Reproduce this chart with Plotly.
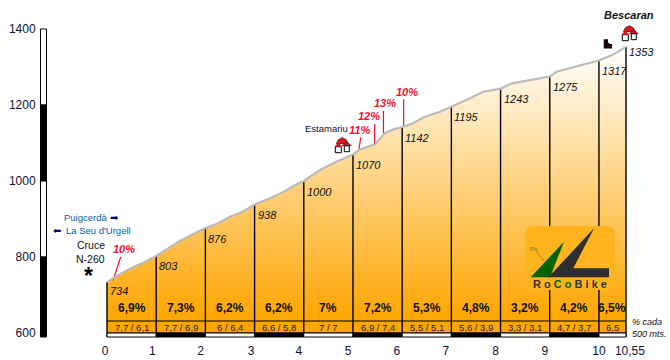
import plotly.graph_objects as go

W, H = 670, 360
# pixel anchors of the two scales
X0_PX, X1_PX = 107.0, 626.0
Y1400_PX, Y600_PX = 29.0, 333.0

km_marks = [0, 1, 2, 3, 4, 5, 6, 7, 8, 9, 10, 10.55]
elev_marks = [734, 803, 876, 938, 1000, 1070, 1142, 1195, 1243, 1275, 1317, 1353]
profile_km = [0, 0.26, 0.53, 0.74, 1, 1.21, 1.48, 1.72, 2, 2.23, 2.5, 2.77, 3, 3.3, 3.6, 3.79, 4,
              4.33, 4.67, 5, 5.14, 5.45, 5.65, 5.82, 6, 6.22, 6.46, 6.77, 7, 7.38, 7.65, 8, 8.23,
              8.66, 9, 9.15, 9.55, 10, 10.28, 10.55]
profile_elev = [734, 755, 773, 785, 803, 821, 842, 858, 876, 887, 906, 920, 938, 954, 972, 987, 1000,
                1029, 1051, 1070, 1083, 1097, 1126, 1136, 1142, 1152, 1169, 1182, 1195, 1218, 1235, 1243, 1257,
                1266, 1275, 1288, 1301, 1317, 1332, 1353]
km_labels = ["0", "1", "2", "3", "4", "5", "6", "7", "8", "9", "10", "10,55"]
km_label_pos = [-0.04, 0.92, 1.9, 2.93, 3.9, 4.9, 5.89, 6.89, 7.9, 8.9, 10.0, 10.63]
y_ticks = [600, 800, 1000, 1200, 1400]
avg_grade = ["6,9%", "7,3%", "6,2%", "6,2%", "7%", "7,2%", "5,3%", "4,8%", "3,2%", "4,2%", "6,5%"]
half_grade = ["7,7 / 6,1", "7,7 / 6,9", "6 / 6,4", "6,6 / 5,8", "7 / 7", "6,9 / 7,4",
              "5,5 / 5,1", "5,6 / 3,9", "3,3 / 3,1", "4,7 / 3,7", "6,5"]
steep_label = ["10%", "11%", "12%", "13%", "10%"]
steep_km = [0.12, 5.12, 5.44, 5.62, 6.03]
steep_base = [738, 1083, 1097, 1126, 1145]
steep_top_km = [0.28, 5.16, 5.44, 5.62, 6.03]
steep_top = [800, 1115, 1150, 1185, 1215]
steep_label_km = [0.35, 5.14, 5.33, 5.66, 6.09]
steep_label_elev = [821, 1134, 1171, 1205, 1234]

sx = (X1_PX - X0_PX) / 10.55
sy = (Y600_PX - Y1400_PX) / 800.0
x_range = [-X0_PX / sx, 10.55 + (W - X1_PX) / sx]
y_range = [600 - (H - Y600_PX) / sy, 1400 + Y1400_PX / sy]
BASE = 600 - 4 / sy


def px(v):
    return v / W


def py(v):
    return 1 - v / H


FONT = "Liberation Sans"
NAVY = "#10103a"
fig = go.Figure()
fig.add_trace(go.Scatter(x=[0, 10.55], y=[BASE, BASE], mode="lines", line=dict(width=0), hoverinfo="skip"))
fig.add_trace(go.Scatter(
    x=profile_km, y=profile_elev, mode="none", fill="tonexty",
    fillgradient=dict(type="vertical", start=632, stop=1353,
                      colorscale=[[0, "#FFA500"], [1, "#FFFFFF"]]),
))
vx, vy = [], []
for k, e in zip(km_marks, elev_marks):
    vx += [k, k, None]
    vy += [BASE, e, None]
fig.add_trace(go.Scatter(x=vx, y=vy, mode="lines", line=dict(color="black", width=1.4)))
fig.add_trace(go.Scatter(x=[0, 10.55, None, 0, 10.55], y=[600 + 12 / sy, 600 + 12 / sy, None, 600, 600],
                         mode="lines", line=dict(color="black", width=1.2)))
sxs, sys = [], []
for a, b, c, d in zip(steep_km, steep_base, steep_top_km, steep_top):
    sxs += [a, c, None]
    sys += [b, d, None]
fig.add_trace(go.Scatter(x=sxs, y=sys, mode="lines", line=dict(color="#F01030", width=1.2)))
fig.add_trace(go.Scatter(x=profile_km, y=profile_elev, mode="lines",
                         line=dict(color="#BBBBBB", width=2.2)))

shapes = []
ann = []


def text(x, y, t, size=10, color="black", bold=False, italic=False, anchor="center", family=FONT):
    ann.append(dict(xref="paper", yref="paper", x=px(x), y=py(y), text=t, showarrow=False,
                    xanchor=anchor, yanchor="middle", borderpad=0,
                    font=dict(family=family, size=size, color=color,
                              weight="bold" if bold else "normal",
                              style="italic" if italic else "normal")))


def poly(points, fill, line=None, lw=1):
    d = "M" + " L".join(f"{px(a):.5f},{py(b):.5f}" for a, b in points) + " Z"
    shapes.append(dict(type="path", xref="paper", yref="paper", path=d, fillcolor=fill,
                       line=dict(color=line or fill, width=lw if line else 0), layer="above"))


# km strip along the foot
edges = km_marks
for i in range(len(edges) - 1):
    shapes.append(dict(type="rect", xref="x", yref="y", x0=edges[i], x1=edges[i + 1], y0=BASE, y1=600,
                       fillcolor="black" if i % 2 else "white", line=dict(color="black", width=1), layer="above"))
# altitude bar
stops = [1400, 1200, 1000, 800, BASE]
for i in range(4):
    shapes.append(dict(type="rect", xref="paper", yref="y", x0=px(40.5), x1=px(46.5), y0=stops[i + 1], y1=stops[i],
                       fillcolor="black" if i % 2 else "white", line=dict(color="black", width=1), layer="above"))

# grade labels
ends = km_marks
for i, t in enumerate(avg_grade):
    ann.append(dict(xref="x", yref="paper", x=(ends[i] + ends[i + 1]) / 2, y=py(308), text=t, showarrow=False,
                    xanchor="center", yanchor="middle",
                    font=dict(family=FONT, size=12, color="#111", weight="bold"), borderpad=0))
for i, t in enumerate(half_grade):
    ann.append(dict(xref="x", yref="paper", x=(ends[i] + ends[i + 1]) / 2, y=py(327), text=t, showarrow=False,
                    xanchor="center", yanchor="middle",
                    font=dict(family=FONT, size=9.5, color="#222"), borderpad=0))
# elevation labels
for k, e in zip(km_marks, elev_marks):
    shift = -5 if k == 10.55 else (-8.5 if k == 0 else -10.5)
    ann.append(dict(xref="x", yref="y", x=k, y=e, text=str(e), showarrow=False, xanchor="left", yanchor="middle",
                    xshift=2, yshift=shift, borderpad=0,
                    font=dict(family=FONT, size=11, color="#111", style="italic")))
# steep labels
for k, e, t in zip(steep_label_km, steep_label_elev, steep_label):
    ann.append(dict(xref="x", yref="y", x=k, y=e, text=t, showarrow=False, borderpad=0,
                    xanchor="center", yanchor="middle",
                    font=dict(family=FONT, size=11, color="#F01030", weight="bold", style="italic")))

text(629, 15, "Bescaran", 11, "#111", bold=True, italic=True)
text(326, 128.7, "Estamariu", 9.5, "#101030")
text(85.3, 217.7, "Puigcerdà", 9.5, "#0060C0")
text(98, 230.7, "La Seu d'Urgell", 9.5, "#0060C0")
text(114, 217.5, "➡", 10, "#000070", family="DejaVu Sans")
text(57, 230.5, "⬅", 10, "#000070", family="DejaVu Sans")
text(91, 245, "Cruce", 10.5, "#111")
text(91, 259, "N-260", 10.5, "#111")
text(88.7, 275.5, "*", 23, "black", bold=True)
text(631, 322, "% cada", 9, "#111", italic=True, anchor="left")
text(631, 333.5, "500 mts.", 9, "#111", italic=True, anchor="left")


def house(cx, cy):
    def p(pts):
        return [(cx + a, cy + b) for a, b in pts]
    poly(p([(-6, -2), (-4, -6), (0, -8), (4, -6), (6, -2)]), "#E8101A", "black", 0.6)
    poly(p([(-7, 1), (-1, 1), (-1, 7), (-7, 7)]), "white", "black", 1)
    poly(p([(-8, 1), (-4, -3), (0, 1)]), "#E8101A")
    poly(p([(2, 0), (7, 0), (7, 6), (2, 6)]), "white", "black", 1)
    poly(p([(0, 0), (4.5, -3.5), (9, 0)]), "#E8101A", "black", 0.6)


house(342.3, 145.7)
house(629.3, 33.7)
poly([(603.7, 39.3), (608, 39.3), (608, 42.5), (610, 44), (612, 44), (612, 48.5), (603.7, 48.5)], "#1A0808")

# logo
r = 9
L, R, T, B = 525, 615, 226, 290
d = (f"M{px(L + r):.5f},{py(T):.5f} L{px(R - r):.5f},{py(T):.5f} Q{px(R):.5f},{py(T):.5f} {px(R):.5f},{py(T + r):.5f} "
     f"L{px(R):.5f},{py(B - r):.5f} Q{px(R):.5f},{py(B):.5f} {px(R - r):.5f},{py(B):.5f} "
     f"L{px(L + r):.5f},{py(B):.5f} Q{px(L):.5f},{py(B):.5f} {px(L):.5f},{py(B - r):.5f} "
     f"L{px(L):.5f},{py(T + r):.5f} Q{px(L):.5f},{py(T):.5f} {px(L + r):.5f},{py(T):.5f} Z")
shapes.append(dict(type="path", xref="paper", yref="paper", path=d, fillcolor="#FFB31F", line=dict(width=0), layer="above"))
poly([(530.7, 277.3), (564, 241.7), (550, 277.3)], "#006400")
poly([(548.3, 277.3), (594, 228.3), (573.3, 268.3), (609, 268.3), (609, 277.3)], "#2F2F2F")
shapes.append(dict(type="line", xref="paper", yref="paper", x0=px(536), y0=py(251), x1=px(544), y1=py(261),
                   line=dict(color="#8A7A20", width=0.8), layer="above"))
text(534.3, 249, "5%", 5, "#7A6A10")
text(569.5, 283.5, 'R o <span style="color:#006400">C o</span> B i k e', 11, "#333333", bold=True)

fig.update_layout(
    width=W, height=H, margin=dict(l=0, r=0, t=0, b=0, pad=0), showlegend=False,
    plot_bgcolor="white", paper_bgcolor="white", shapes=shapes, annotations=ann,
    xaxis=dict(range=x_range, domain=[0, 1], anchor="free", position=(H - 337) / H, showgrid=False, zeroline=False,
               showline=False, tickmode="array", tickvals=km_label_pos, ticktext=km_labels, ticks="outside",
               ticklen=3, tickcolor="rgba(0,0,0,0)", tickfont=dict(family=FONT, size=12, color=NAVY)),
    yaxis=dict(range=y_range, domain=[0, 1], anchor="free", position=40 / W, showgrid=False, zeroline=False,
               showline=False, tickmode="array", tickvals=y_ticks, ticktext=[str(v) for v in y_ticks], ticks="outside",
               ticklen=2, tickcolor="rgba(0,0,0,0)", tickfont=dict(family=FONT, size=12, color=NAVY)),
)
fig.write_html("out.html", config={"displayModeBar": False},
               post_script="document.body.style.margin='0';document.documentElement.style.overflow='hidden';")
